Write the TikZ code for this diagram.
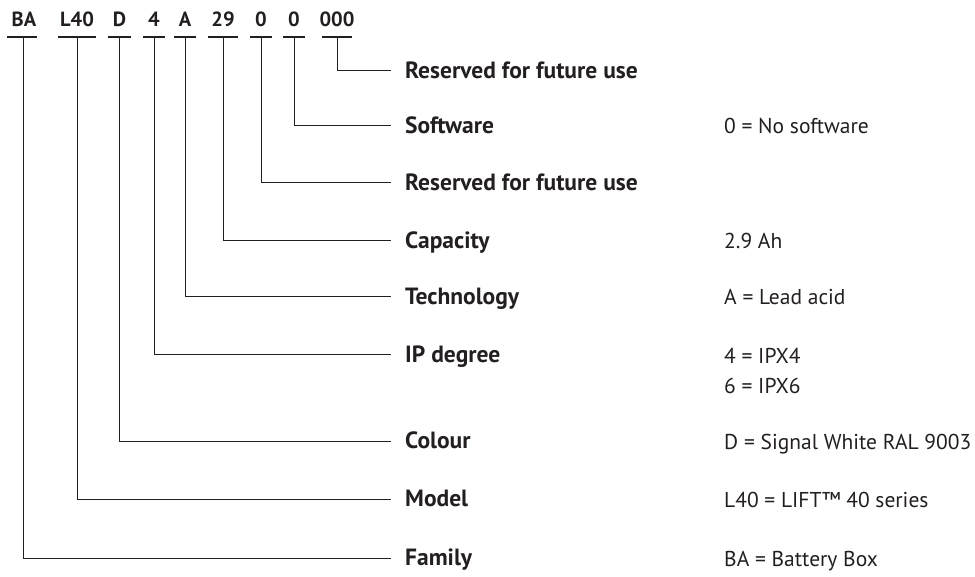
\documentclass[tikz,border=0pt]{standalone}
\usepackage{fontspec}
\setmainfont{PT Sans}
\definecolor{ink}{HTML}{231F20}
\begin{document}
\begin{tikzpicture}[x=1pt,y=-1pt,
  code/.style={font=\bfseries\fontsize{20.5}{24}\selectfont, text=ink, anchor=base, inner sep=0pt},
  ul/.style={draw=ink, line width=2.5pt},
  conn/.style={draw=ink, line width=1pt},
  lab/.style={font=\bfseries\fontsize{23.5}{27}\selectfont, text=ink, anchor=west, inner xsep=14pt, inner ysep=0pt, text height=15pt, text depth=0pt},
  val/.style={font=\fontsize{21.5}{25}\selectfont, text=ink, anchor=base west, inner sep=0pt}]
\useasboundingbox (0,0) rectangle (975,577);
% code letters
\node[code] (k1) at (24,27) {BA};
\node[code] (k2) at (77,27) {L40};
\node[code] (k3) at (119.5,27) {D};
\node[code] (k4) at (154,27) {4};
\node[code] (k5) at (185,27) {A};
\node[code] (k6) at (223,27) {29};
\node[code] (k7) at (261,27) {0};
\node[code] (k8) at (294,27) {0};
\node[code] (k9) at (337,27) {000};
% underlines
\draw[ul] (7,37) -- (37,37);
\draw[ul] (58,37) -- (96,37);
\draw[ul] (108,37) -- (131,37);
\draw[ul] (143,37) -- (165,37);
\draw[ul] (174,37) -- (196,37);
\draw[ul] (208,37) -- (238,37);
\draw[ul] (250,37) -- (272,37);
\draw[ul] (283,37) -- (305,37);
\draw[ul] (322,37) -- (352,37);
\coordinate (u1) at (23,37);
\coordinate (u2) at (77,37);
\coordinate (u3) at (119.5,37);
\coordinate (u4) at (154,37);
\coordinate (u5) at (185,37);
\coordinate (u6) at (223,37);
\coordinate (u7) at (261.5,37);
\coordinate (u8) at (294,37);
\coordinate (u9) at (337,37);
% labels
\node[lab] (l9) at (391,71) {Reserved for future use};
\node[lab] (l8) at (391,126) {Software};
\node[lab] (l7) at (391,183) {Reserved for future use};
\node[lab] (l6) at (391,241) {Capacity};
\node[lab] (l5) at (391,297) {Technology};
\node[lab] (l4) at (391,355) {IP degree};
\node[lab] (l3) at (391,441) {Colour};
\node[lab] (l2) at (391,499) {Model};
\node[lab] (l1) at (391,558) {Family};
% connectors
\foreach \i in {1,...,9} { \draw[conn] (u\i) |- (l\i.west); }
% values
\node[val] (v8) at (724,134) {0 = No software};
\node[val] (v6) at (724,249) {2.9 Ah};
\node[val] (v5) at (724,305) {A = Lead acid};
\node[val] (v4a) at (724,364) {4 = IPX4};
\node[val] (v4b) at (724,394) {6 = IPX6};
\node[val] (v3) at (724,449) {D = Signal White RAL 9003};
\node[val] (v2) at (724,507) {L40 = LIFT™ 40 series};
\node[val] (v1) at (724,566) {BA = Battery Box};
\end{tikzpicture}
\end{document}
